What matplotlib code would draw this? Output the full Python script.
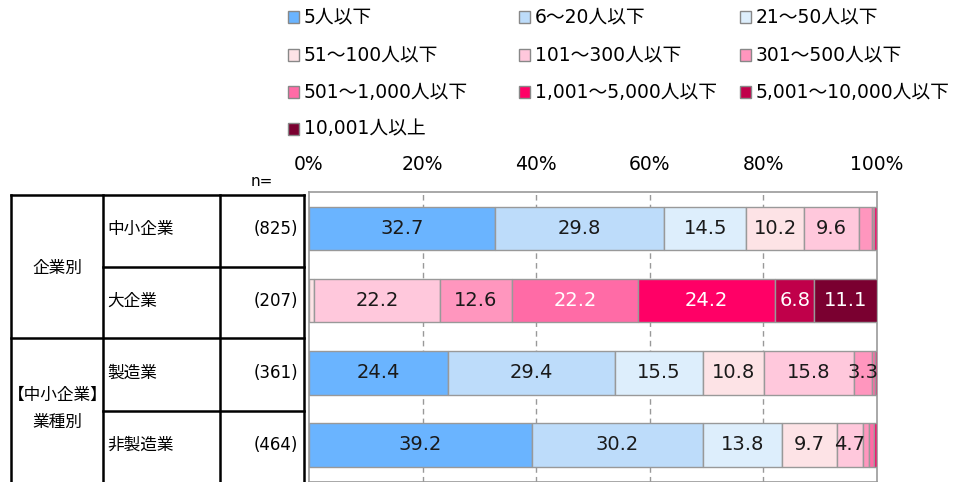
import matplotlib.pyplot as plt
from matplotlib.patches import Rectangle
from matplotlib.transforms import blended_transform_factory
import numpy as np

plt.rcParams['font.family'] = ['DejaVu Sans', 'Noto Sans CJK JP']

# data
rows = ['中小企業', '大企業', '製造業', '非製造業']
n_vals = ['(825)', '(207)', '(361)', '(464)']
sizes = ['5人以下', '6～20人以下', '21～50人以下', '51～100人以下', '101～300人以下',
         '301～500人以下', '501～1,000人以下', '1,001～5,000人以下',
         '5,001～10,000人以下', '10,001人以上']
colors = ['#6AB4FF', '#BDDCFA', '#DDEEFC', '#FDE3E6', '#FFC8DC',
          '#FF96BE', '#FF6BA6', '#FF0066', '#C0004A', '#7A0030']
white_text = [False] * 6 + [True] * 4

# share (%) per size class, one list per row
sme = [32.7, 29.8, 14.5, 10.2, 9.6, 2.4, 0.3, 0.5, 0.0, 0.0]
large = [0.0, 0.0, 0.0, 0.9, 22.2, 12.6, 22.2, 24.2, 6.8, 11.1]
manuf = [24.4, 29.4, 15.5, 10.8, 15.8, 3.3, 0.4, 0.4, 0.0, 0.0]
nonmanuf = [39.2, 30.2, 13.8, 9.7, 4.7, 1.0, 0.8, 0.6, 0.0, 0.0]
data = np.array([sme, large, manuf, nonmanuf])

W, H = 965, 482
fig = plt.figure(figsize=(W / 100, H / 100), dpi=100)

ax_left, ax_right, ax_top = 309, 877, 192
ax = fig.add_axes([ax_left / W, 0, (ax_right - ax_left) / W, (H - ax_top) / H])

y = np.arange(len(rows))
left = np.zeros(len(rows))
for i in range(len(sizes)):
    vals = data[:, i]
    ax.barh(y, vals, left=left, height=0.61, color=colors[i],
            edgecolor='#999999', linewidth=1, zorder=3)
    for j, v in enumerate(vals):
        if v >= 3:
            ax.text(left[j] + v / 2, y[j], f'{v:.1f}', ha='center', va='center',
                    fontsize=14, color='white' if white_text[i] else '#1a1a1a',
                    zorder=4)
    left += vals

ax.set_xlim(0, 100)
ax.set_ylim(3.52, -0.507)
ax.set_yticks([])
ax.xaxis.tick_top()
ax.set_xticks([0, 20, 40, 60, 80, 100])
ax.set_xticklabels(['0%', '20%', '40%', '60%', '80%', '100%'], fontsize=13.5)
ax.tick_params(axis='x', length=0, pad=13)
for gx in [20, 40, 60, 80]:
    ax.axvline(gx, color='#999999', linestyle=(0, (4, 3)), linewidth=1, zorder=1)
for s in ax.spines.values():
    s.set_color('#999999')
    s.set_linewidth(1.2)

# left-hand table
def fx(px):
    return px / W

def fy(py):
    return 1 - py / H

lw = 1.8
for xs, ys in [
    ((11, 304), (195, 195)),
    ((103, 304), (267, 267)),
    ((11, 304), (338, 338)),
    ((103, 304), (411, 411)),
    ((11, 11), (195, 482)),
    ((103, 103), (195, 482)),
    ((220, 220), (195, 482)),
    ((304, 304), (195, 482)),
]:
    fig.add_artist(plt.Line2D([fx(xs[0]), fx(xs[1])], [fy(ys[0]), fy(ys[1])],
                              color='black', linewidth=lw, transform=fig.transFigure))

tr = blended_transform_factory(fig.transFigure, ax.transData)
for j, (r, nv) in enumerate(zip(rows, n_vals)):
    ax.text(fx(107), y[j], r, transform=tr, ha='left', va='center', fontsize=12)
    ax.text(fx(298), y[j], nv, transform=tr, ha='right', va='center', fontsize=12)

fig.text(fx(57), fy(268), '企業別', ha='center', va='center', fontsize=12)
fig.text(fx(58), fy(395), '【中小企業】', ha='center', va='center', fontsize=12)
fig.text(fx(57), fy(422), '業種別', ha='center', va='center', fontsize=12)
fig.text(fx(262), fy(182), 'n=', ha='center', va='center', fontsize=11)

# legend
col_x = [288, 519, 740]
row_y = [17, 55, 92, 129]
for k, (lab, c) in enumerate(zip(sizes, colors)):
    cx = col_x[k % 3]
    cy = row_y[k // 3]
    fig.add_artist(Rectangle((fx(cx), fy(cy + 5.5)), 11 / W, 11 / H, facecolor=c,
                             edgecolor='#888888', linewidth=1, transform=fig.transFigure))
    fig.text(fx(cx + 16), fy(cy), lab, ha='left', va='center', fontsize=13.5)

fig.savefig('out.png', dpi=100)
